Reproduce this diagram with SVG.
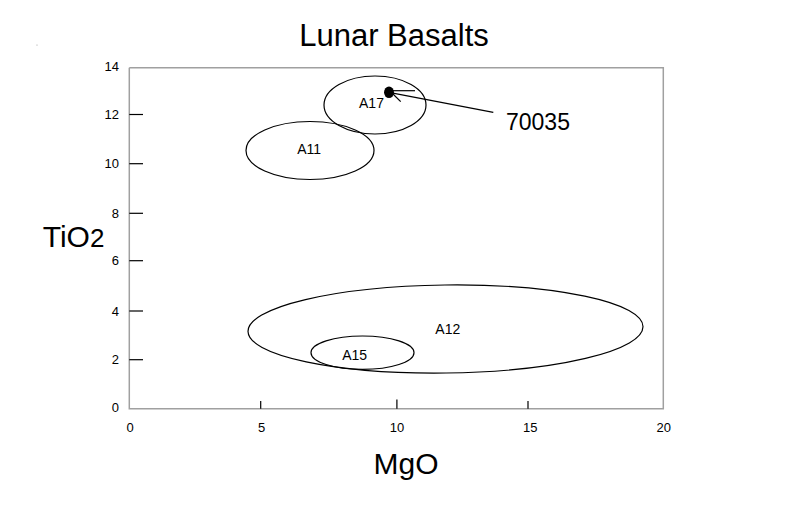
<svg xmlns="http://www.w3.org/2000/svg" width="798" height="508" viewBox="0 0 798 508">
<style>
  text { font-family: "Liberation Sans", Arial, sans-serif; fill: #000; }
  .frame { fill: none; stroke: #a0a0a0; stroke-width: 1.5; }
  .tick { stroke: #000; stroke-width: 1.2; }
  .tl { font-size: 13px; }
  .ylab { text-anchor: end; }
  .xlab { text-anchor: middle; }
  .region { fill: none; stroke: #000; stroke-width: 1.2; }
  .rlabel { font-size: 14px; text-anchor: middle; }
  .big { font-size: 30px; }
  .conn { stroke: #000; stroke-width: 1.2; fill: none; }
</style>
<rect x="0" y="0" width="798" height="508" fill="#fff"/>
<circle cx="37" cy="45" r="0.6" fill="#999"/>

<text x="394" y="45.5" font-size="31" text-anchor="middle">Lunar Basalts</text>

<g id="axes">
  <polyline class="frame" points="129.3,67.7 663.3,67.7 663.3,408.7 129.3,408.7 129.3,67.7"/>
  <g id="yticks">
    <line class="tick" x1="129.3" y1="114.5" x2="143" y2="114.5"/>
    <line class="tick" x1="129.3" y1="163.7" x2="143" y2="163.7"/>
    <line class="tick" x1="129.3" y1="213.3" x2="143" y2="213.3"/>
    <line class="tick" x1="129.3" y1="260.7" x2="143" y2="260.7"/>
    <line class="tick" x1="129.3" y1="311" x2="143" y2="311"/>
    <line class="tick" x1="129.3" y1="359.7" x2="143" y2="359.7"/>
  </g>
  <g id="xticks">
    <line class="tick" x1="260.7" y1="401" x2="260.7" y2="408.7"/>
    <line class="tick" x1="396.9" y1="399.5" x2="396.9" y2="408.7"/>
    <line class="tick" x1="528" y1="401" x2="528" y2="408.7"/>
  </g>
  <g id="ylabels" class="tl ylab">
    <text class="tl ylab" x="119" y="70.7">14</text>
    <text class="tl ylab" x="119" y="119.3">12</text>
    <text class="tl ylab" x="119" y="168.3">10</text>
    <text class="tl ylab" x="119" y="217.7">8</text>
    <text class="tl ylab" x="119" y="265">6</text>
    <text class="tl ylab" x="119" y="315.7">4</text>
    <text class="tl ylab" x="119" y="364">2</text>
    <text class="tl ylab" x="119" y="412.3">0</text>
  </g>
  <g id="xlabels">
    <text class="tl xlab" x="130" y="431.7">0</text>
    <text class="tl xlab" x="261.7" y="431.7">5</text>
    <text class="tl xlab" x="397" y="431.7">10</text>
    <text class="tl xlab" x="530.3" y="431.7">15</text>
    <text class="tl xlab" x="663.8" y="431.7">20</text>
  </g>
  <text class="big" x="406" y="474" text-anchor="middle">MgO</text>
  <text class="big" x="42.7" y="246.7">TiO<tspan font-size="26">2</tspan></text>
</g>

<g id="A12">
  <ellipse class="region" cx="445.5" cy="329" rx="197.5" ry="44" transform="rotate(-0.7 445.5 329)"/>
  <text class="rlabel" x="447.8" y="334">A12</text>
</g>
<g id="A15">
  <ellipse class="region" cx="362.5" cy="352.7" rx="51.5" ry="16.7"/>
  <text class="rlabel" x="354.7" y="360">A15</text>
</g>
<g id="A11">
  <ellipse class="region" cx="310" cy="150.5" rx="64" ry="29"/>
  <text class="rlabel" x="309.2" y="154.3">A11</text>
</g>
<g id="A17">
  <ellipse class="region" cx="375" cy="105" rx="51" ry="29"/>
  <text class="rlabel" x="371.5" y="107.7">A17</text>
</g>
<g id="s70035">
  <ellipse cx="389" cy="92.3" rx="5" ry="5.8" fill="#000"/>
  <text x="506" y="130" font-size="23">70035</text>
</g>

<g id="connectors">
  <line class="conn" x1="389" y1="92.3" x2="493.3" y2="112.3"/>
  <line class="conn" x1="391.5" y1="90.7" x2="415" y2="90.7"/>
  <line class="conn" x1="392.5" y1="93.5" x2="400.7" y2="101.7"/>
</g>
</svg>
